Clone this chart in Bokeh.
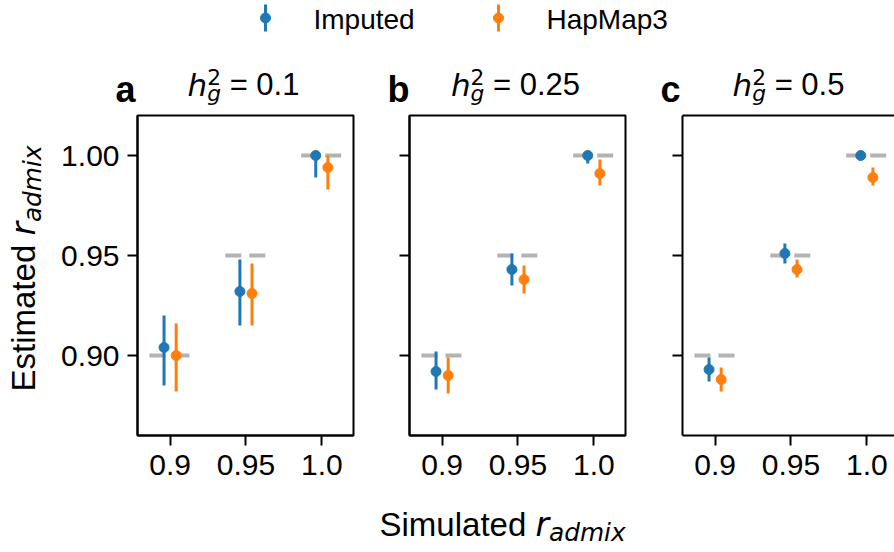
import math

from bokeh.core.properties import value
from bokeh.embed import file_html
from bokeh.layouts import column, row
from bokeh.models import FixedTicker, LinearAxis, PrintfTickFormatter, Range1d
from bokeh.plotting import figure
from bokeh.resources import INLINE

# ---------------------------------------------------------------- data
sim_r = [0.9, 0.95, 1.0]                 # simulated r_admix (x categories)
sim_tick_text = ["0.9", "0.95", "1.0"]
est_ticks = [0.90, 0.95, 1.00]           # estimated r_admix axis ticks
h2_text = ["0.1", "0.25", "0.5"]
panel_tags = ["a", "b", "c"]
series_names = ["Imputed", "HapMap3"]

# h2 = 0.1
imputed_mean_a = [0.904, 0.932, 1.000]
imputed_low_a = [0.885, 0.915, 0.989]
imputed_high_a = [0.920, 0.948, 1.000]
hapmap3_mean_a = [0.900, 0.931, 0.994]
hapmap3_low_a = [0.882, 0.915, 0.983]
hapmap3_high_a = [0.916, 0.946, 1.000]

# h2 = 0.25
imputed_mean_b = [0.892, 0.943, 1.000]
imputed_low_b = [0.883, 0.935, 0.996]
imputed_high_b = [0.902, 0.951, 1.000]
hapmap3_mean_b = [0.890, 0.938, 0.991]
hapmap3_low_b = [0.881, 0.931, 0.985]
hapmap3_high_b = [0.899, 0.945, 0.998]

# h2 = 0.5
imputed_mean_c = [0.893, 0.951, 1.000]
imputed_low_c = [0.887, 0.946, 1.000]
imputed_high_c = [0.899, 0.956, 1.000]
hapmap3_mean_c = [0.888, 0.943, 0.989]
hapmap3_low_c = [0.882, 0.939, 0.985]
hapmap3_high_c = [0.894, 0.948, 0.994]

# ---------------------------------------------------------------- style
BLUE = "#1f77b4"
ORANGE = "#ff7f0e"
GREY = "#b3b3b3"
TEXT_FONT = "Liberation Sans"
MATH_FONT = "DejaVu Sans"
FS_LEGEND = 28
FS_TICK = 30
FS_TITLE = 31
FS_LABEL = 33
FS_TAG = 36
BASE_K = 0.31      # lifts the text anchor onto the alphabetic baseline
MID_K = 0.35       # baseline offset below the middle of a text line

W, H = 894, 552
TOP_H, BOTTOM_H, SIDE_W = 110, 52, 50
Y_START, Y_END = 0.86, 1.02
X_START = -0.43
PX_PER_CAT = 75.85
FRAME_W, FRAME_H = 216, 320
FRAME_TOP = 115
FRAME_LEFTS = [137, 409, 682]
BORDER_TOP = FRAME_TOP - TOP_H
BORDER_BOTTOM = H - BOTTOM_H - FRAME_TOP - FRAME_H
DODGE = 0.08
TRUTH_HALF = 0.272

# advance widths (per 1000 em) used to chain text runs
LIB_W = {' ': 278, '=': 584, '.': 278, '0': 556, '1': 556, '2': 556, '5': 556,
         'E': 667, 'S': 667, 's': 500, 't': 278, 'i': 222, 'm': 833, 'a': 556,
         'e': 556, 'd': 556, 'u': 556, 'l': 222}
DJV_W = {' ': 318, 'h': 634, 'g': 635, '2': 636, 'r': 411, 'a': 613, 'd': 635,
         'm': 974, 'i': 278, 'x': 592}


def run_width(text, font, size):
    table = DJV_W if font == MATH_FONT else LIB_W
    return sum(table[c] for c in text) / 1000.0 * size


def runs_length(runs):
    return sum(run_width(t, f, s) for t, f, st, s, sh, adv in runs if adv)


def draw_text(fig, x, y, text, font, style, size):
    """Horizontal text item whose (x, y) is its left end on the baseline."""
    fig.text(x=[x], y=[y + BASE_K * size], text=[text],
             text_font=value(font), text_font_style=value(style),
             text_font_size=value(f"{size:.1f}px"), text_color="black",
             text_baseline="alphabetic", text_align="left")


def draw_vertical(fig, xb, yc, text, font, style, size):
    """Text read bottom-to-top, centred at yc, with its baseline at x = xb."""
    fig.text(x=[xb - MID_K * size], y=[yc], text=[text], angle=math.pi / 2,
             text_font=value(font), text_font_style=value(style),
             text_font_size=value(f"{size:.1f}px"), text_color="black",
             text_baseline="middle", text_align="center")


def add_runs(fig, runs, x, y, vertical=False):
    """Chain styled text pieces in a pixel-scaled text strip."""
    pos = 0.0
    for text, font, style, size, shift, adv in runs:
        body = text.strip()
        lead = run_width(text[:len(text) - len(text.lstrip())], font, size)
        if body:
            if vertical:
                mid = y + pos + lead + run_width(body, font, size) / 2
                draw_vertical(fig, x + shift, mid, body, font, style, size)
            else:
                draw_text(fig, x + pos + lead, y - shift, body, font, style, size)
        if adv:
            pos += run_width(text, font, size)


def r_admix_runs(word):
    return [(word + " ", TEXT_FONT, "normal", FS_LABEL, 0, True),
            ("r", MATH_FONT, "italic", FS_LABEL, 0, True),
            ("admix", MATH_FONT, "italic", 0.75 * FS_LABEL, 0.16 * FS_LABEL, True)]


def title_runs(h2):
    sub = 0.7 * FS_TITLE
    return [("h", MATH_FONT, "italic", FS_TITLE, 0, True),
            ("g", MATH_FONT, "italic", sub, 0.18 * FS_TITLE, False),
            ("2", MATH_FONT, "normal", sub, -0.36 * FS_TITLE, True),
            (" = " + h2, TEXT_FONT, "normal", FS_TITLE, 0, True)]


def text_strip(width, height, y_range=None, border_top=0, border_bottom=0):
    """Figure whose data units are pixels, used for free-standing texts."""
    s = figure(width=width, height=height, x_range=Range1d(0, width),
               y_range=y_range or Range1d(0, height), toolbar_location=None,
               output_backend="svg", x_axis_type=None, y_axis_type=None,
               min_border_left=0, min_border_right=0,
               min_border_top=border_top, min_border_bottom=border_bottom,
               outline_line_color=None,
               background_fill_color="white", border_fill_color="white")
    s.xgrid.visible = False
    s.ygrid.visible = False
    return s


def style_axis(ax, labels=True):
    ax.axis_line_width = 2
    ax.axis_line_color = "black"
    ax.major_tick_line_width = 2
    ax.major_tick_line_color = "black"
    ax.major_tick_out = 10
    ax.major_tick_in = 0
    ax.minor_tick_line_color = None
    ax.major_label_text_font = TEXT_FONT
    if labels:
        ax.major_label_text_color = "black"
        ax.major_label_text_font_size = f"{FS_TICK}px"
        ax.major_label_standoff = 8
    else:
        ax.major_label_text_color = None
        ax.major_label_text_font_size = "1px"
        ax.major_label_standoff = 0


def make_panel(series, left_b, frame_w, right_b, y_labels, closed):
    x_pos = list(range(len(sim_r)))
    p = figure(frame_width=frame_w, frame_height=FRAME_H,
               x_range=Range1d(X_START, X_START + frame_w / PX_PER_CAT),
               y_range=Range1d(Y_START, Y_END),
               min_border_left=left_b, min_border_right=right_b,
               min_border_top=BORDER_TOP, min_border_bottom=BORDER_BOTTOM,
               toolbar_location=None, output_backend="svg",
               background_fill_color="white", border_fill_color="white")
    p.xgrid.visible = False
    p.ygrid.visible = False
    p.xaxis.ticker = FixedTicker(ticks=x_pos)
    p.xaxis.major_label_overrides = {i: t for i, t in zip(x_pos, sim_tick_text)}
    p.yaxis.ticker = FixedTicker(ticks=est_ticks)
    p.yaxis.formatter = PrintfTickFormatter(format="%.2f")
    style_axis(p.xaxis[0])
    style_axis(p.yaxis[0], labels=y_labels)
    p.xaxis.major_label_standoff = 9

    if closed:
        p.outline_line_color = "black"
        p.outline_line_width = 2
        p.outline_line_alpha = 1
    else:
        p.outline_line_color = None
        top = LinearAxis(ticker=FixedTicker(ticks=[]))
        style_axis(top, labels=False)
        top.major_tick_out = 0
        p.add_layout(top, "above")

    # dashed reference at the simulated value
    p.segment(x0=[x - TRUTH_HALF for x in x_pos], y0=sim_r,
              x1=[x + TRUTH_HALF for x in x_pos], y1=sim_r,
              line_color=GREY, line_width=4, line_dash="16 8")

    for (mean, low, high), color, dx in zip(series, [BLUE, ORANGE], [-DODGE, DODGE]):
        xs = [x + dx for x in x_pos]
        p.segment(x0=xs, y0=low, x1=xs, y1=high, line_color=color, line_width=3)
        p.scatter(xs, mean, size=10, fill_color=color, line_color=color)
    return p


# side strip shares the panels' frame rows; its data y is page height minus page y
side = text_strip(SIDE_W, H - TOP_H - BOTTOM_H,
                  y_range=Range1d(H - FRAME_TOP - FRAME_H, H - FRAME_TOP),
                  border_top=BORDER_TOP, border_bottom=BORDER_BOTTOM)
pa = make_panel([(imputed_mean_a, imputed_low_a, imputed_high_a),
                 (hapmap3_mean_a, hapmap3_low_a, hapmap3_high_a)],
                FRAME_LEFTS[0] - SIDE_W, FRAME_W, 17, True, True)
pb = make_panel([(imputed_mean_b, imputed_low_b, imputed_high_b),
                 (hapmap3_mean_b, hapmap3_low_b, hapmap3_high_b)],
                39, FRAME_W, 35, False, True)
pc = make_panel([(imputed_mean_c, imputed_low_c, imputed_high_c),
                 (hapmap3_mean_c, hapmap3_low_c, hapmap3_high_c)],
                22, W - FRAME_LEFTS[2], 0, False, False)

# ---- top strip: legend and panel titles
top = text_strip(W, TOP_H)
leg_x = [265, 498]
leg_text_x = [313, 546]
leg_colors = [BLUE, ORANGE]
top.segment(x0=leg_x, y0=[TOP_H - 31] * 2, x1=leg_x, y1=[TOP_H - 4] * 2,
            line_color=leg_colors, line_width=3)
top.scatter(leg_x, [TOP_H - 17.5] * 2, size=10, fill_color=leg_colors,
            line_color=leg_colors)
for tx, name in zip(leg_text_x, series_names):
    draw_text(top, tx, TOP_H - 27.3, name, TEXT_FONT, "normal", FS_LEGEND)

for fl, tag, h2 in zip(FRAME_LEFTS, panel_tags, h2_text):
    draw_text(top, fl - 22, TOP_H - 100, tag, TEXT_FONT, "bold", FS_TAG)
    runs = title_runs(h2)
    add_runs(top, runs, fl + FRAME_W / 2 - 2 - runs_length(runs) / 2, TOP_H - 94)

# ---- shared axis titles
ylab = r_admix_runs("Estimated")
add_runs(side, ylab, 35, (H - 268) - runs_length(ylab) / 2, vertical=True)

bottom = text_strip(W, BOTTOM_H)
xlab = r_admix_runs("Simulated")
add_runs(bottom, xlab, 502 - runs_length(xlab) / 2, BOTTOM_H - 34)

layout = column(top, row(side, pa, pb, pc, spacing=0), bottom, spacing=0)

with open("out.html", "w") as f:
    f.write(file_html(layout, INLINE))
